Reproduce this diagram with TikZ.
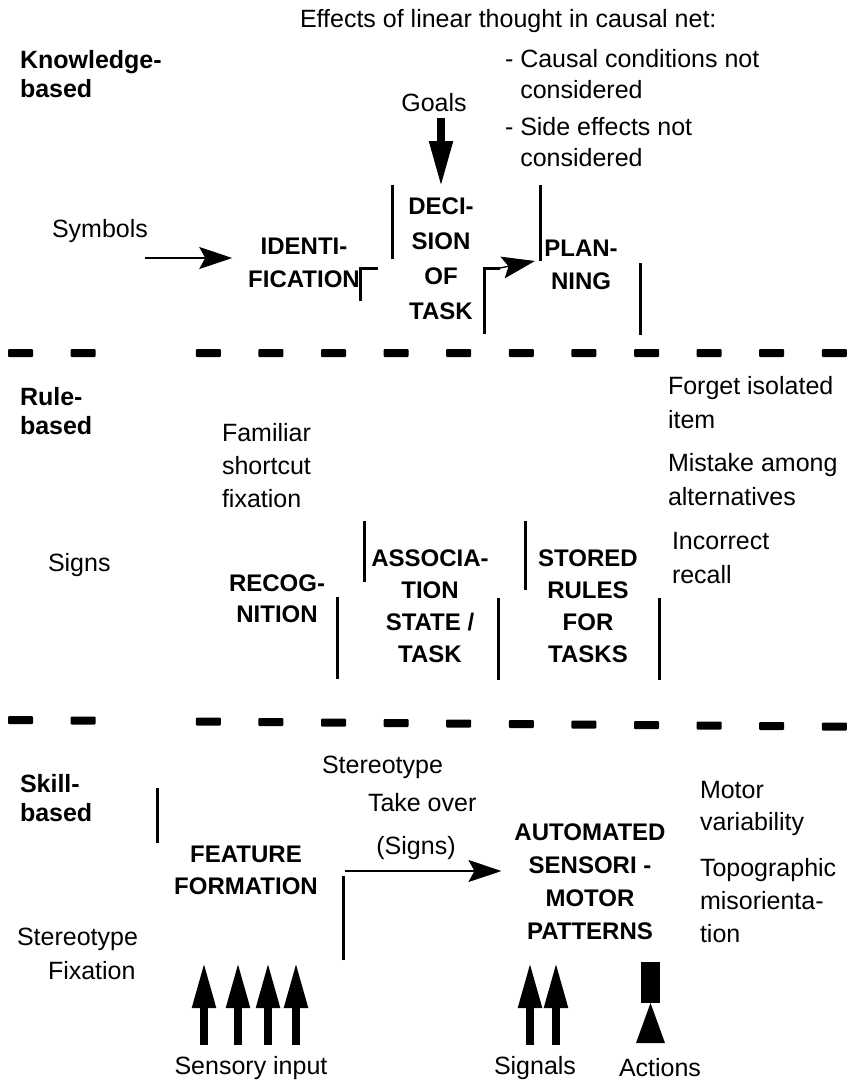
\documentclass[tikz,border=0pt]{standalone}
\usepackage{fontspec}
\setmainfont{Liberation Sans}
\usetikzlibrary{arrows.meta,positioning}

\begin{document}
\begin{tikzpicture}[
  x=1pt, y=-1pt,
  font=\fontsize{25}{31}\selectfont,
  every node/.style={inner sep=0pt, outer sep=0pt},
  txt/.style={anchor=north west, align=left},
  level/.style={txt, font=\fontsize{25}{29}\selectfont\bfseries},
  stage/.style={anchor=north, align=center, font=\fontsize{24}{33}\selectfont\bfseries},
  bar/.style={line width=3pt},
  thinarrow/.style={line width=1.3pt, -{Stealth[length=33pt, width=22pt, inset=6pt]}},
  fatarrow/.style={line width=8pt, -{Triangle[length=46pt, width=22pt]}},
  sep/.style={fill, rounded corners=1pt},
]
\useasboundingbox (0,0) rectangle (847,1084);

%% ---- Knowledge-based level ----
\node[level] (know) at (20,50) {Knowledge-\\based};
\node[txt] (effects) at (300,9) {Effects of linear thought in causal net:};
\node[txt] (causal) at (505,49) {- Causal conditions not\\\phantom{- }considered\\[6pt]- Side effects not\\\phantom{- }considered};
\node (goals) at (434,103) {Goals};
\node[txt] (symbols) at (52,219) {Symbols};
\node[stage] (ident) at (304,238) {IDENTI-\\FICATION};
\node[stage, font=\fontsize{24}{35}\selectfont\bfseries] (decis) at (441,198) {DECI-\\SION\\OF\\TASK};
\node[stage] (plan) at (581,240) {PLAN-\\NING};

\coordinate (symtail) at (145,258);
\draw[thinarrow, shorten >=16pt] (symtail) -- (symtail -| ident.west);
\draw[fatarrow] ([yshift=-6pt]decis.north |- goals.south) -- ([yshift=11pt]decis.north);

\draw[bar] (360,301) -- (360,268) -- (378,268);
\draw[bar] (392,185) -- (392,259);
\draw[bar] (484,334) -- (484,268) -- (500,268);
\draw[thinarrow] (500,268) -- (535,261);
\draw[bar] (540,185) -- (540,261);
\draw[bar] (640,263) -- (640,335);

%% ---- separators ----
\foreach \i in {0,1,3,4,...,13}
  \fill[sep] (8+62.6*\i, 349) rectangle ++(25,8);
\foreach \i in {0,1,3,4,...,13}
  \fill[sep] (8+62.6*\i, 716+0.5*\i) rectangle ++(25,8);

%% ---- Rule-based level ----
\node[level] (rule) at (20,387) {Rule-\\based};
\node[txt, font=\fontsize{25}{33}\selectfont] (familiar) at (222,423) {Familiar\\shortcut\\fixation};
\node[txt, font=\fontsize{25}{34}\selectfont] (forget) at (668,376) {Forget isolated\\item};
\node[txt, font=\fontsize{25}{34}\selectfont, below=25pt of forget.south west, anchor=north west] (mistake) {Mistake among\\alternatives};
\node[txt, font=\fontsize{25}{34}\selectfont, below=27pt of mistake.south west, anchor=north west, xshift=4pt] (incorrect) {Incorrect\\recall};

\node[txt] (signs) at (48,553) {Signs};
\node[stage, font=\fontsize{24}{31}\selectfont\bfseries] (recog) at (277,575) {RECOG-\\NITION};
\node[stage, font=\fontsize{24}{32}\selectfont\bfseries] (assoc) at (430,550) {ASSOCIA-\\TION\\STATE /\\TASK};
\node[stage, font=\fontsize{24}{32}\selectfont\bfseries] (stored) at (588,550) {STORED\\RULES\\FOR\\TASKS};

\draw[bar] (364,521) -- (364,582);
\draw[bar] (337,597) -- (337,679);
\draw[bar] (498,598) -- (498,680);
\draw[bar] (525,521) -- (525,590);
\draw[bar] (659,598) -- (659,680);

%% ---- Skill-based level ----
\node[level] (skill) at (20,774) {Skill-\\based};
\node[txt] (stereo) at (322,756) {Stereotype};
\node[txt] (takeover) at (368,793) {Take over};
\draw[bar] (157,788) -- (157,843);
\node[stage, font=\fontsize{24}{32}\selectfont\bfseries] (feature) at (246,846) {FEATURE\\FORMATION};
\node (signs2) at (416,848) {(Signs)};
\node[stage] (autom) at (590,824) {AUTOMATED\\SENSORI -\\MOTOR\\PATTERNS};

\coordinate (signtail) at (345,871);
\draw[bar] (343,960) -- (343,876);
\draw[thinarrow, shorten >=13pt] (signtail) -- (signtail -| autom.west);

\node[txt, font=\fontsize{25}{32}\selectfont] (motor) at (700,781) {Motor\\variability};
\node[txt, font=\fontsize{25}{33}\selectfont] (topo) at (700,858) {Topographic\\misorienta-\\tion};
\node[txt] (stereofix) at (17,928) {Stereotype};
\node[txt] (fixation) at (48,961) {Fixation};

%% ---- inputs / outputs ----
\foreach \x in {204,238,268,296}
  \draw[fatarrow] (\x,1045) -- (\x,962);
\node (sensory) at (251,1068) {Sensory input};
\foreach \x in {530,556}
  \draw[fatarrow] (\x,1045) -- (\x,962);
\node (signals) at (535,1068) {Signals};
\fill (641,962) rectangle (660,1003);
\fill (650.5,1003) -- (636,1043) -- (665,1043) -- cycle;
\node (actions) at (660,1068) {Actions};

\end{tikzpicture}
\end{document}
